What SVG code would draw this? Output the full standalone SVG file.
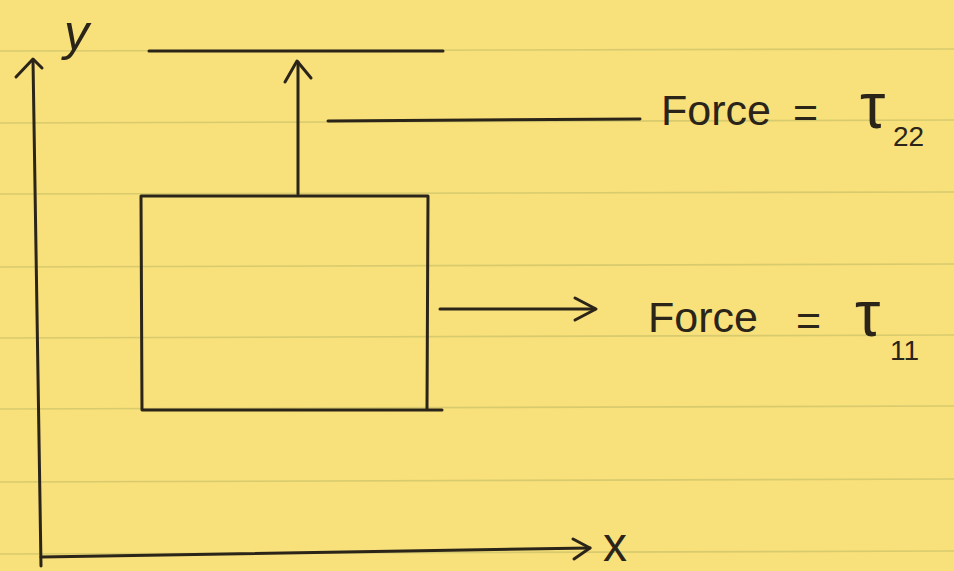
<svg xmlns="http://www.w3.org/2000/svg" width="954" height="571" viewBox="0 0 954 571">
<defs>
<style>
.rule{stroke:#d8cb6e;stroke-width:1.6;fill:none}
.ink{stroke:#2b2419;stroke-width:3;fill:none;stroke-linecap:round;stroke-linejoin:round}
.txt{font-family:"Liberation Sans","DejaVu Sans",sans-serif;fill:#2b2419}
</style>
</defs>
<rect x="0" y="0" width="954" height="571" fill="#f8e07b"/>
<g id="ruling">
<line class="rule" x1="0" y1="51" x2="954" y2="49"/>
<line class="rule" x1="0" y1="123" x2="954" y2="120"/>
<line class="rule" x1="0" y1="194" x2="954" y2="192"/>
<line class="rule" x1="0" y1="267" x2="954" y2="264"/>
<line class="rule" x1="0" y1="338" x2="954" y2="335"/>
<line class="rule" x1="0" y1="409" x2="954" y2="406"/>
<line class="rule" x1="0" y1="482" x2="954" y2="479"/>
<line class="rule" x1="0" y1="554" x2="954" y2="551"/>
</g>
<g id="axes">
<path class="ink" d="M41 566 L33 60"/>
<path class="ink" d="M16 77 L33 59 L42 68"/>
<path class="ink" d="M41 557 L590 548"/>
<path class="ink" d="M573 539 L590 548 L574 559"/>
<text class="txt" x="64" y="50" font-size="50" font-style="italic">y</text>
<text class="txt" x="603" y="561" font-size="48">x</text>
</g>
<g id="box">
<path class="ink" d="M141 196 L428 196 M141 196 L142 410 L442 410 M428 196 L427 409"/>
</g>
<g id="plate">
<path class="ink" d="M149 51 L443 51"/>
</g>
<g id="connectors">
<path class="ink" d="M298 194 L298 62"/>
<path class="ink" d="M285 82 L297 61 L311 78"/>
<path class="ink" d="M328 121 L640 119"/>
<path class="ink" d="M440 309 L595 309"/>
<path class="ink" d="M575 298 L596 309 L575 320"/>
</g>
<g id="label-t22">
<text class="txt" x="661" y="125" font-size="43">Force</text>
<text class="txt" x="793" y="127" font-size="43">=</text>
<text class="txt" x="860" y="128" font-size="64">τ</text>
<text class="txt" x="893" y="146" font-size="28">22</text>
</g>
<g id="label-t11">
<text class="txt" x="648" y="332" font-size="43">Force</text>
<text class="txt" x="796" y="335" font-size="43">=</text>
<text class="txt" x="855" y="336" font-size="64">τ</text>
<text class="txt" x="890" y="360" font-size="28">11</text>
</g>
</svg>
